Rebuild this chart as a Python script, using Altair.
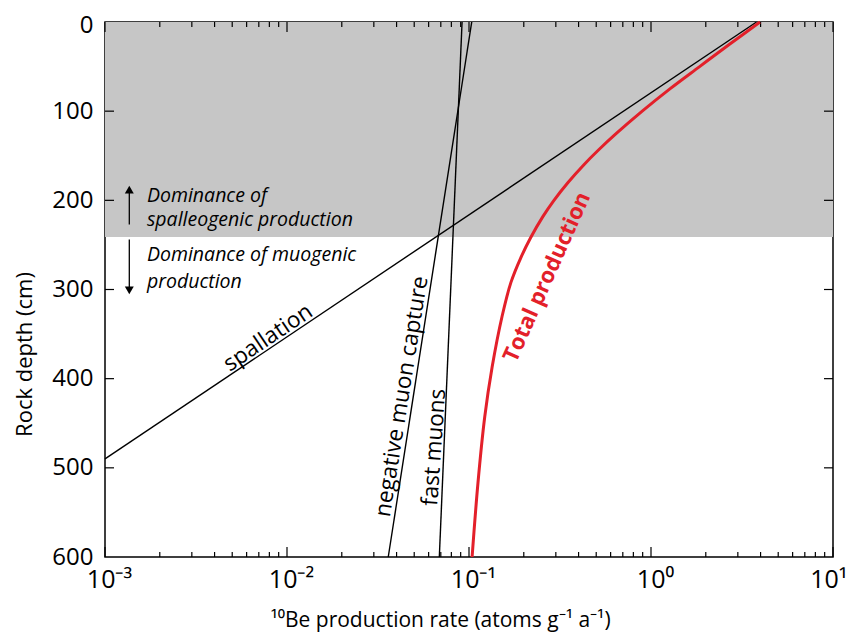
import altair as alt
import pandas as pd

# ---------------- data ----------------
spall_depth = [0, 490]
spall_rate = [3.8, 0.001]

negmu_depth = [0, 600]
negmu_rate = [0.1035, 0.036]

fastmu_depth = [0, 600]
fastmu_rate = [0.0916, 0.0687]

total_depth = [0, 25, 50, 75, 100, 125, 143, 160, 180, 200, 218, 242, 265, 292, 330, 387, 443, 517, 600]
total_rate = [3.97, 2.70, 1.85, 1.27, 0.895, 0.645, 0.518, 0.428, 0.350, 0.293, 0.255, 0.218, 0.192,
              0.170, 0.152, 0.134, 0.122, 0.112, 0.104]

shade_top, shade_bottom = 0, 241

x_major = [0.001, 0.01, 0.1, 1, 10]
x_minor = [m * 10.0 ** e for e in (-3, -2, -1, 0) for m in range(2, 10)]
y_ticks = [100, 200, 300, 400, 500]

line_labels = ["spallation", "negative muon capture", "fast muons"]
line_label_rate = [0.00787, 0.0427, 0.0644]
line_label_depth = [354, 420, 477]
line_label_angle = [326, 279, 274]

total_label = "Total production"
total_label_rate = 0.268
total_label_depth = 286

note_lines = ["Dominance of", "spalleogenic production", "Dominance of muogenic", "production"]
note_depth = [202, 229, 268, 298]
note_rate = 0.0017
arrow_rate = 0.00136

W, H = 728, 535
FONT = "Open Sans"

xs = alt.Scale(type="log", domain=[0.001, 10], nice=False)
ys = alt.Scale(domain=[0, 600], reverse=True, nice=False, zero=False)

xaxis = alt.Axis(
    values=x_major, ticks=False, domain=False, grid=False,
    labelExpr="datum.value == 0.001 ? '10⁻³' : datum.value == 0.01 ? '10⁻²' : datum.value == 0.1 ? '10⁻¹' : datum.value == 1 ? '10⁰' : '10¹'",
    labelFontSize=25, labelPadding=10, labelFont=FONT, labelColor="black",
    labelFlush=False, labelOverlap=False,
    labelAlign={"condition": {"test": "datum.value == 10", "value": "right"}, "value": "center"},
    labelOffset={"condition": {"test": "datum.value == 10", "value": 14}, "value": 4},
    title="¹⁰Be production rate (atoms g⁻¹ a⁻¹)", titleFont=FONT, titleFontSize=21,
    titleFontWeight="normal", titleColor="black",
    titleX=335, titleY=69, titleBaseline="alphabetic", titleAnchor="middle",
)
yaxis = alt.Axis(
    values=[0, 100, 200, 300, 400, 500, 600], ticks=False, domain=False, grid=False,
    labelFontSize=24, labelPadding=12, labelFont=FONT, labelColor="black",
    labelFlush=False, labelOverlap=False,
    labelOffset={"condition": {"test": "datum.value == 0", "value": 3}, "value": 0},
    title="Rock depth (cm)", titleFont=FONT, titleFontSize=22, titleFontWeight="normal",
    titleColor="black", titleX=-81, titleY=332, titleBaseline="middle", titleAngle=270,
)

X = alt.X("rate:Q", scale=xs, axis=xaxis)
Y = alt.Y("depth:Q", scale=ys, axis=yaxis)

band = alt.Chart(pd.DataFrame({"depth": [shade_top], "depth2": [shade_bottom]})).mark_rect(
    color="#c6c6c6"
).encode(y=Y, y2="depth2:Q", x=alt.value(0), x2=alt.value(W))

def line_df(d, r):
    return pd.DataFrame({"depth": d, "rate": r, "order": list(range(len(d)))})

spall = alt.Chart(line_df(spall_depth, spall_rate)).mark_line(color="black", strokeWidth=1.4).encode(
    x=X, y=Y, order="order:Q")
negmu = alt.Chart(line_df(negmu_depth, negmu_rate)).mark_line(color="black", strokeWidth=1.4).encode(
    x=X, y=Y, order="order:Q")
fastmu = alt.Chart(line_df(fastmu_depth, fastmu_rate)).mark_line(color="black", strokeWidth=1.4).encode(
    x=X, y=Y, order="order:Q")
total = alt.Chart(line_df(total_depth, total_rate)).mark_line(
    color="#e3202a", strokeWidth=3, interpolate="catmull-rom").encode(x=X, y=Y, order="order:Q")

# inward ticks
major_df = pd.DataFrame({"rate": x_major})
minor_df = pd.DataFrame({"rate": x_minor})
ytick_df = pd.DataFrame({"depth": y_ticks})
tick_style = dict(color="black", strokeWidth=1.2)
ticks = [
    alt.Chart(major_df).mark_rule(**tick_style).encode(x=X, y=alt.value(H), y2=alt.value(H - 10)),
    alt.Chart(minor_df).mark_rule(**tick_style).encode(x=X, y=alt.value(H), y2=alt.value(H - 5)),
    alt.Chart(major_df).mark_rule(**tick_style).encode(x=X, y=alt.value(0), y2=alt.value(10)),
    alt.Chart(minor_df).mark_rule(**tick_style).encode(x=X, y=alt.value(0), y2=alt.value(5)),
    alt.Chart(ytick_df).mark_rule(**tick_style).encode(y=Y, x=alt.value(0), x2=alt.value(9)),
    alt.Chart(ytick_df).mark_rule(**tick_style).encode(y=Y, x=alt.value(W), x2=alt.value(W - 9)),
]

# labels on the lines
lab_layers = []
for t, r, d, a in zip(line_labels, line_label_rate, line_label_depth, line_label_angle):
    lab_layers.append(
        alt.Chart(pd.DataFrame({"rate": [r], "depth": [d], "t": [t]})).mark_text(
            font=FONT, fontSize=22.5, color="black", angle=a, align="center", baseline="middle"
        ).encode(x=X, y=Y, text="t:N")
    )
lab_layers.append(
    alt.Chart(pd.DataFrame({"rate": [total_label_rate], "depth": [total_label_depth], "t": [total_label]})).mark_text(
        font=FONT, fontSize=22, fontWeight="bold", color="#e3202a", angle=294, align="center", baseline="middle"
    ).encode(x=X, y=Y, text="t:N")
)

notes = alt.Chart(pd.DataFrame({"rate": [note_rate] * 4, "depth": note_depth, "t": note_lines})).mark_text(
    font=FONT, fontSize=19.5, fontStyle="italic", color="black", align="left", baseline="alphabetic"
).encode(x=X, y=Y, text="t:N")

arrows = alt.Chart(pd.DataFrame({"rate": [arrow_rate, arrow_rate], "depth": [227, 244], "depth2": [190, 299]})).mark_rule(
    color="black", strokeWidth=1.3).encode(x=X, y=Y, y2="depth2:Q")
heads = alt.Chart(pd.DataFrame({"rate": [arrow_rate, arrow_rate], "depth": [188, 301], "s": ["triangle-up", "triangle-down"]})).mark_point(
    filled=True, color="black", size=80, opacity=1).encode(
    x=X, y=Y, shape=alt.Shape("s:N", scale=None, legend=None))

chart = alt.layer(band, spall, negmu, fastmu, *ticks, total, *lab_layers, notes, arrows, heads).properties(
    width=W, height=H,
    autosize=alt.AutoSizeParams(type="none"),
    padding={"left": 97, "top": 14, "right": 15, "bottom": 76},
    background="white",
).configure_view(stroke="black", strokeWidth=1.5)

chart.save("out.html", embed_options={"renderer": "svg", "actions": False})
